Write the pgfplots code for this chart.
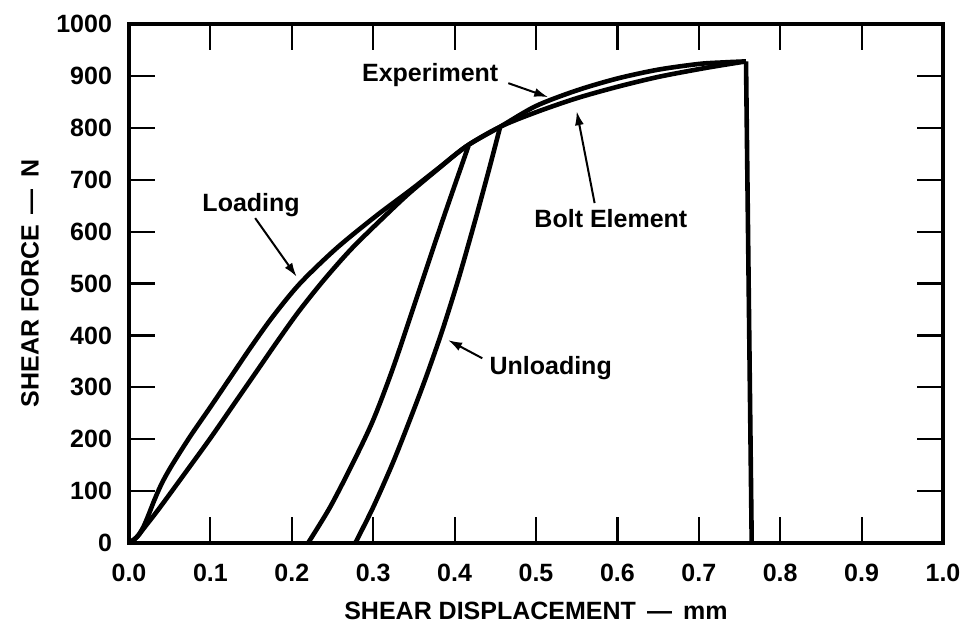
\documentclass[border=0pt]{standalone}
\usepackage{fontspec}
\setmainfont{Liberation Sans}
\usepackage{pgfplots}
\pgfplotsset{compat=1.18}
\usetikzlibrary{arrows.meta}
\begin{document}
\begin{tikzpicture}
\path[use as bounding box] (-64.5pt,-42.5pt) rectangle (417pt,271.5pt);
\begin{axis}[
  scale only axis, width=407pt, height=259.5pt,
  at={(0,0)}, anchor=south west,
  xmin=0, xmax=1, ymin=0, ymax=1000,
  xtick={0,0.1,0.2,0.3,0.4,0.5,0.6,0.7,0.8,0.9,1.0},
  xticklabels={0.0,0.1,0.2,0.3,0.4,0.5,0.6,0.7,0.8,0.9,1.0},
  ytick={0,100,200,300,400,500,600,700,800,900,1000},
  yticklabels={0,100,200,300,400,500,600,700,800,900,1000},
  /pgf/number format/assume math mode=true,
  tick align=inside,
  major tick length=13pt,
  every tick/.style={black, line width=1.1pt},
  axis line style={line width=1.8pt},
  ticklabel style={font=\fontsize{12.5}{15}\selectfont\bfseries},
  xticklabel shift=7pt,
  yticklabel shift=5pt,
  label style={font=\fontsize{12.5}{15}\selectfont\bfseries},
  xlabel={SHEAR DISPLACEMENT \,—\, mm},
  ylabel={SHEAR FORCE \,—\, N},
  xlabel style={at={(axis description cs:0.5,-0.131)}, anchor=center},
  ylabel style={at={(axis description cs:-0.1216,0.5)}, anchor=center},
  clip=false,
]
% Experiment (loading)
\addplot[black, line width=2.3pt, smooth, tension=0.5] coordinates {
 (0,0) (0.006,6) (0.012,16) (0.018,32) (0.024,54) (0.031,82) (0.040,114)
 (0.052,148) (0.075,205) (0.100,262) (0.125,320) (0.150,378) (0.177,437)
 (0.210,500) (0.255,568) (0.305,632) (0.345,679) (0.380,722) (0.415,765)
 (0.456,802) (0.500,842) (0.550,872) (0.600,895) (0.650,912) (0.700,923)
 (0.730,926) (0.758,928)
};
% Bolt element (loading)
\addplot[black, line width=2.3pt, smooth, tension=0.5] coordinates {
 (0,0) (0.010,12) (0.020,32) (0.030,52) (0.042,77) (0.069,135) (0.100,202)
 (0.130,270) (0.160,338) (0.182,388) (0.208,445) (0.239,506) (0.274,568)
 (0.317,634) (0.345,675) (0.380,721) (0.415,765) (0.456,802) (0.500,830)
 (0.550,857) (0.600,879) (0.650,898) (0.700,913) (0.730,921) (0.758,928)
};
% final drop
\addplot[black, line width=2.3pt] coordinates {(0.758,928) (0.765,0)};
% Unloading 1
\addplot[black, line width=2.3pt, smooth, tension=0.5] coordinates {
 (0.220,0) (0.247,69) (0.275,154) (0.300,237) (0.325,340) (0.355,480)
 (0.386,625) (0.417,765)
};
% Unloading 2
\addplot[black, line width=2.3pt, smooth, tension=0.5] coordinates {
 (0.278,0) (0.300,69) (0.324,154) (0.345,237) (0.365,320) (0.385,410)
 (0.405,510) (0.425,620) (0.442,718) (0.456,802)
};
% annotations
\node[font=\fontsize{12.5}{15}\selectfont\bfseries] at (axis cs:0.370,902) {Experiment};
\draw[line width=1pt, -{Latex[length=7pt,width=4.5pt]}] (axis cs:0.466,886) -- (axis cs:0.515,859);
\node[font=\fontsize{12.5}{15}\selectfont\bfseries] at (axis cs:0.592,626) {Bolt Element};
\draw[line width=1pt, -{Latex[length=7pt,width=4.5pt]}] (axis cs:0.572,655) -- (axis cs:0.550,832);
\node[font=\fontsize{12.5}{15}\selectfont\bfseries] at (axis cs:0.150,651) {Loading};
\draw[line width=1pt, -{Latex[length=7pt,width=4.5pt]}] (axis cs:0.155,626) -- (axis cs:0.206,513);
\node[font=\fontsize{12.5}{15}\selectfont\bfseries] at (axis cs:0.518,337) {Unloading};
\draw[line width=1pt, -{Latex[length=7pt,width=4.5pt]}] (axis cs:0.434,356) -- (axis cs:0.392,391);
\end{axis}
\end{tikzpicture}
\end{document}
